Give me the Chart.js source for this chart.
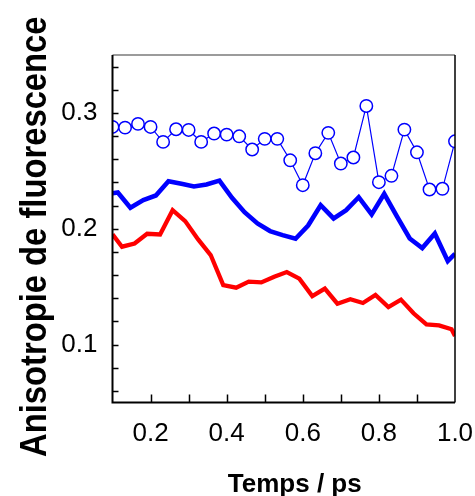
<!DOCTYPE html>
<html>
<head>
<meta charset="utf-8">
<script src="https://cdn.jsdelivr.net/npm/chart.js@4.4.1/dist/chart.umd.min.js"></script>
<style>
  html, body { margin: 0; padding: 0; background: #fff; }
  #wrap { width: 475px; height: 496px; position: relative; }
</style>
</head>
<body>
<div id="wrap"><canvas id="c" width="475" height="496"></canvas></div>
<script>
// Open-circle series
const timeCircles = [0.100, 0.133, 0.167, 0.200, 0.233, 0.267, 0.300, 0.333, 0.367, 0.400,
                     0.433, 0.467, 0.500, 0.533, 0.567, 0.600, 0.633, 0.667, 0.700, 0.733,
                     0.767, 0.800, 0.833, 0.867, 0.900, 0.933, 0.967, 1.000];
const anisoCircles = [0.2879, 0.2873, 0.2905, 0.2879, 0.2750, 0.2859, 0.2853, 0.2750, 0.2822, 0.2813,
                      0.2798, 0.2684, 0.2776, 0.2776, 0.2591, 0.2376, 0.2652, 0.2828, 0.2563, 0.2615,
                      0.3060, 0.2402, 0.2457, 0.2856, 0.2660, 0.2339, 0.2345, 0.2755];

// Blue curve
const timeBlue = [0.100, 0.114, 0.147, 0.181, 0.214, 0.247, 0.281, 0.314, 0.347, 0.381,
                  0.414, 0.447, 0.481, 0.514, 0.547, 0.581, 0.614, 0.647, 0.681, 0.714,
                  0.747, 0.781, 0.814, 0.847, 0.881, 0.914, 0.947, 0.981, 1.000];
const anisoBlue = [0.2307, 0.2313, 0.2181, 0.2247, 0.2287, 0.2410, 0.2388, 0.2365, 0.2382, 0.2416,
                   0.2267, 0.2143, 0.2046, 0.1980, 0.1945, 0.1914, 0.2028, 0.2203, 0.2089, 0.2160,
                   0.2272, 0.2123, 0.2302, 0.2109, 0.1916, 0.1833, 0.1959, 0.1721, 0.1784];

// Red curve
const timeRed = [0.100, 0.125, 0.158, 0.191, 0.225, 0.258, 0.291, 0.325, 0.358, 0.391,
                 0.425, 0.458, 0.491, 0.525, 0.558, 0.591, 0.625, 0.658, 0.691, 0.725,
                 0.758, 0.791, 0.825, 0.858, 0.891, 0.925, 0.958, 0.991, 1.000];
const anisoRed = [0.1951, 0.1845, 0.1873, 0.1957, 0.1951, 0.2160, 0.2066, 0.1908, 0.1773, 0.1514,
                  0.1491, 0.1543, 0.1537, 0.1586, 0.1626, 0.1569, 0.1419, 0.1483, 0.1353, 0.1391,
                  0.1359, 0.1428, 0.1324, 0.1388, 0.1270, 0.1175, 0.1166, 0.1132, 0.1074];

// Axis ticks
const xLabelTicks = [0.2, 0.4, 0.6, 0.8, 1.0];
const xMarkTicks = [0.2, 0.3, 0.4, 0.5, 0.6, 0.7, 0.8, 0.9];
const yLabelTicks = [0.1, 0.2, 0.3];
const yMarkTicks = [0.06, 0.08, 0.10, 0.12, 0.14, 0.16, 0.18, 0.20, 0.22, 0.24,
                    0.26, 0.28, 0.30, 0.32, 0.34];

const xTitle = 'Temps / ps';
const yTitle = 'Anisotropie de fluorescence';

const FONT = '"Liberation Sans", Arial, Helvetica, sans-serif';

const pairs = (xs, ys) => xs.map((x, i) => ({ x: x, y: ys[i] }));

// Frame, inward tick marks and axis titles
const framePlugin = {
  id: 'frame',
  afterDraw(chart) {
    const { ctx, chartArea: a, scales } = chart;
    const xs = scales.x, ys = scales.y;
    ctx.save();
    ctx.strokeStyle = '#000';
    ctx.lineWidth = 1.5;
    ctx.beginPath();
    xMarkTicks.forEach(v => {
      const px = Math.round(xs.getPixelForValue(v)) + 0.5;
      ctx.moveTo(px, a.bottom);
      ctx.lineTo(px, a.bottom - 8);
    });
    yMarkTicks.forEach(v => {
      const py = Math.round(ys.getPixelForValue(v)) + 0.5;
      ctx.moveTo(a.left, py);
      ctx.lineTo(a.left + 6, py);
    });
    ctx.stroke();

    // top edge (light)
    ctx.strokeStyle = '#7a7a7a';
    ctx.lineWidth = 1.5;
    ctx.beginPath();
    ctx.moveTo(a.left, a.top);
    ctx.lineTo(a.right, a.top);
    ctx.stroke();

    // left, bottom, right edges
    ctx.strokeStyle = '#000';
    ctx.lineWidth = 2;
    ctx.beginPath();
    ctx.moveTo(a.left, a.top);
    ctx.lineTo(a.left, a.bottom);
    ctx.lineTo(a.right, a.bottom);
    ctx.stroke();
    ctx.lineWidth = 1.5;
    ctx.beginPath();
    ctx.moveTo(a.right, a.top);
    ctx.lineTo(a.right, a.bottom);
    ctx.stroke();

    // axis titles
    ctx.fillStyle = '#000';
    ctx.textAlign = 'center';
    ctx.textBaseline = 'alphabetic';
    ctx.font = 'bold 26px ' + FONT;
    ctx.fillText(xTitle, (a.left + a.right) / 2 + 11, a.bottom + 89);

    ctx.translate(a.left - 67, (a.top + a.bottom) / 2 + 8);
    ctx.rotate(-Math.PI / 2);
    ctx.scale(0.91, 1);
    ctx.font = 'bold 36px ' + FONT;
    ctx.fillText(yTitle, 0, 0);
    ctx.restore();
  }
};

new Chart(document.getElementById('c'), {
  type: 'scatter',
  data: {
    datasets: [
      {
        data: pairs(timeCircles, anisoCircles),
        showLine: true,
        borderColor: '#0000ff',
        borderWidth: 1.2,
        pointRadius: 6.2,
        pointBorderWidth: 1.5,
        pointBorderColor: '#0000ff',
        pointBackgroundColor: '#ffffff',
        order: 0
      },
      {
        data: pairs(timeBlue, anisoBlue),
        showLine: true,
        borderColor: '#0000ff',
        borderWidth: 4.6,
        pointRadius: 0,
        borderJoinStyle: 'miter',
        order: 1
      },
      {
        data: pairs(timeRed, anisoRed),
        showLine: true,
        borderColor: '#ff0000',
        borderWidth: 4.3,
        pointRadius: 0,
        borderJoinStyle: 'miter',
        order: 2
      }
    ]
  },
  plugins: [framePlugin],
  options: {
    responsive: false,
    animation: false,
    devicePixelRatio: 1,
    layout: { padding: { top: 55, right: 20, left: 0, bottom: 0 } },
    plugins: { legend: { display: false }, tooltip: { enabled: false } },
    scales: {
      x: {
        type: 'linear',
        min: 0.1,
        max: 1.0,
        grid: { display: false, drawTicks: false },
        border: { display: false },
        afterBuildTicks: s => { s.ticks = xLabelTicks.map(v => ({ value: v })); },
        afterFit: s => { s.height = 93.5; s.paddingLeft = 0; s.paddingRight = 0; },
        ticks: {
          autoSkip: false,
          maxRotation: 0,
          padding: 16,
          color: '#000',
          font: { family: FONT, size: 26 },
          callback: v => v.toFixed(1)
        }
      },
      y: {
        type: 'linear',
        min: 0.05,
        max: 0.35,
        grid: { display: false, drawTicks: false },
        border: { display: false },
        afterBuildTicks: s => { s.ticks = yLabelTicks.map(v => ({ value: v })); },
        afterFit: s => { s.width = 112.5; s.paddingTop = 0; s.paddingBottom = 0; },
        ticks: {
          autoSkip: false,
          padding: 15,
          color: '#000',
          font: { family: FONT, size: 26 },
          callback: v => v.toFixed(1)
        }
      }
    }
  }
});
</script>
</body>
</html>
